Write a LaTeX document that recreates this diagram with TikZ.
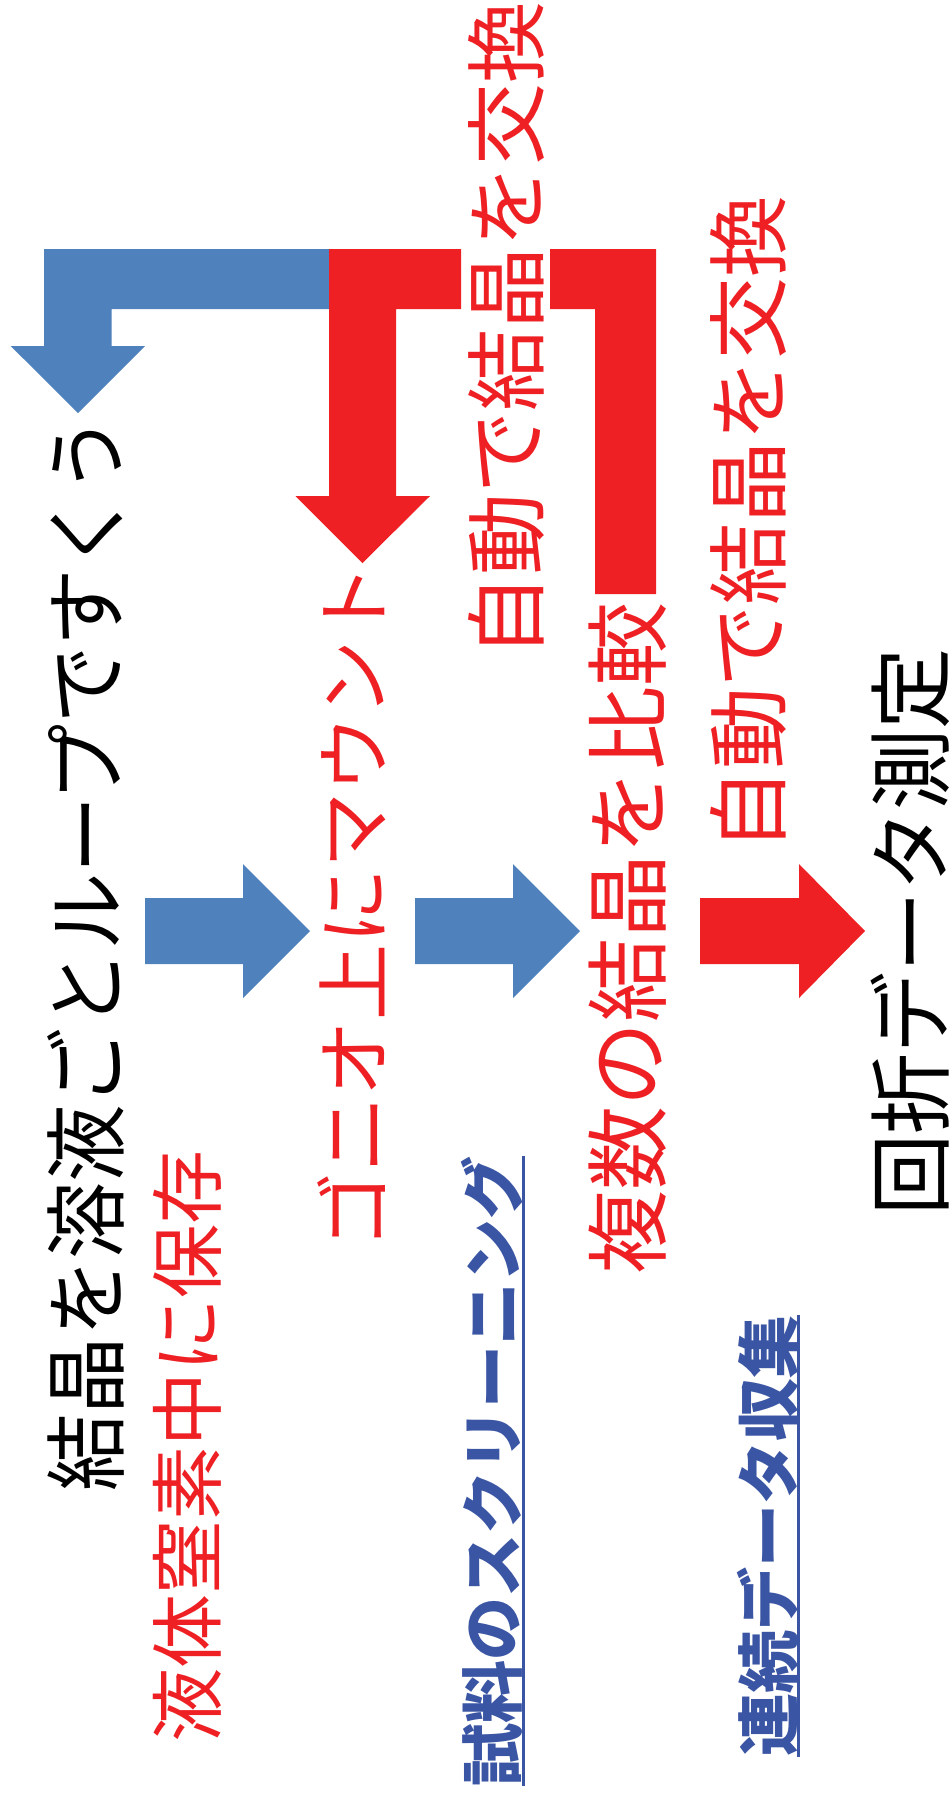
\documentclass[tikz,border=0pt]{standalone}
\usepackage{fontspec}
\usepackage{graphicx}
\newfontfamily\jp{Noto Sans CJK JP}
\definecolor{ablue}{HTML}{4F81BD}
\definecolor{ared}{HTML}{EE2024}
\definecolor{tblue}{HTML}{3A55A4}
\tikzset{
  lbl/.style={rotate=90, inner sep=0pt, anchor=center},
  blockblue/.style={fill=ablue, draw=none},
  blockred/.style={fill=ared, draw=none},
  ul/.style={draw=tblue, line width=3pt},
}
\newcommand{\jfs}[1]{\fontsize{#1}{#1}\selectfont\jp}
\begin{document}
\begin{tikzpicture}[x=1pt,y=-1pt]
\fill[white] (0,0) rectangle (949,1805);
\useasboundingbox (0,0) rectangle (949,1805);

% bent arrows
\path[blockblue] (44,249) -- (330,249) -- (330,309) -- (111.6,309) -- (111.6,346) -- (145,346) -- (78,413) -- (10.7,346) -- (44,346) -- cycle;
\path[blockred] (329,249) -- (461,249) -- (461,309) -- (396,309) -- (396,496) -- (430,496) -- (362.5,563) -- (295.5,496) -- (329,496) -- cycle;
\path[blockred] (550,249) -- (656,249) -- (656,594) -- (595,594) -- (595,309) -- (550,309) -- cycle;

% right arrows
\path[blockblue] (145,898) -- (243,898) -- (243,864) -- (310,931) -- (243,998) -- (243,964) -- (145,964) -- cycle;
\path[blockblue] (415,898) -- (513,898) -- (513,864) -- (580,931) -- (513,998) -- (513,964) -- (415,964) -- cycle;
\path[blockred] (700,898) -- (799,898) -- (799,864) -- (865,931) -- (799,998) -- (799,964) -- (700,964) -- cycle;

% texts
\node[lbl, text=black] (t1) at (85.5,954) {\jfs{83}\scalebox{0.93}[1]{結晶を溶液ごとループですくう}};
\node[lbl, text=ared] (t2) at (187,1446) {\jfs{74}液体窒素中に保存};
\node[lbl, text=ared] (t3) at (352,906.5) {\jfs{76}ゴニオ上にマウント};
\node[lbl, text=tblue] (t4) at (492,1471) {\jfs{63}\bfseries 試料のスクリーニング};
\node[lbl, text=ared] (t5) at (506,329) {\jfs{82}\scalebox{1.0}[1]{自動で結晶を交換}};
\node[lbl, text=ared] (t6) at (628,938) {\jfs{84}複数の結晶を比較};
\node[lbl, text=tblue] (t7) at (768,1536) {\jfs{63}\bfseries 連続データ収集};
\node[lbl, text=ared] (t8) at (748,523) {\jfs{82}\scalebox{1.0}[1]{自動で結晶を交換}};
\node[lbl, text=black] (t9) at (910,932) {\jfs{84}\scalebox{0.965}[1]{回折データ測定}};

% underlines
\draw[ul] (t4.south west) -- (t4.south east);
\draw[ul] (t7.south west) -- (t7.south east);
\end{tikzpicture}
\end{document}
